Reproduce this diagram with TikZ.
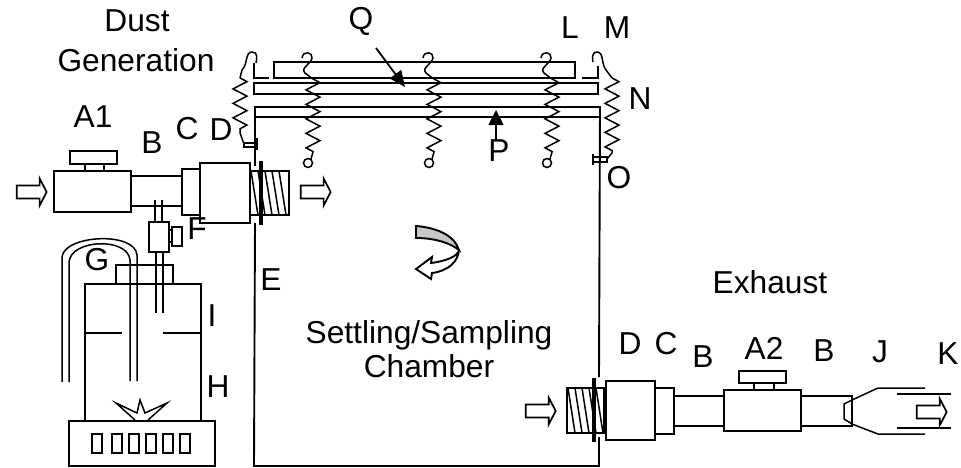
\documentclass[tikz,border=0pt]{standalone}
\usepackage{fontspec}
\setmainfont{Liberation Sans}
\usetikzlibrary{shapes.arrows, arrows.meta, decorations.pathmorphing}
\tikzstyle{part} = [draw=black, line width=1.9pt]
\tikzstyle{thin part} = [draw=black, line width=1.5pt]
\tikzstyle{flange} = [draw=black, line width=3.5pt]
\tikzstyle{letter} = [font=\fontsize{31.7}{35}\selectfont, inner sep=0pt, text=black]
\tikzstyle{flow} = [single arrow, draw=black, line width=1.7pt, minimum width=27pt, minimum height=30pt, inner sep=5.5pt, single arrow head extend=7pt, single arrow tip angle=125, outer sep=0pt]
\tikzstyle{coil} = [draw=black, line width=1.5pt, decorate, decoration={zigzag, amplitude=7pt, segment length=14.5pt}]
\tikzstyle{pointer} = [draw=black, line width=1.8pt]
\newcommand{\threads}[3]{\foreach \tx in {0,7,...,30} {\draw [thin part] (#1+\tx,#2) -- (#1+\tx+7,#3);}}
\begin{document}
\begin{tikzpicture}[x=1pt, y=-1pt]
    \useasboundingbox (0,0) rectangle (961,467);

    % labels
    \node (dust) [letter] at (137,21) {Dust};
    \node (generation) [letter] at (136,60) {Generation};
    \node (a1) [letter] at (93,117) {A1};
    \node (b1) [letter] at (152,143) {B};
    \node (c1) [letter] at (187,129) {C};
    \node (d1) [letter] at (221,130) {D};
    \node (f) [letter] at (197,229) {F};
    \node (g) [letter] at (97,260) {G};
    \node (e) [letter] at (271,280) {E};
    \node (i) [letter] at (212,316) {I};
    \node (h) [letter] at (218,387) {H};
    \node (q) [letter] at (361,21) {Q};
    \node (l) [letter] at (570,28) {L};
    \node (m) [letter] at (617,28) {M};
    \node (n) [letter] at (640,99) {N};
    \node (p) [letter] at (499,151) {P};
    \node (o) [letter] at (619,178) {O};
    \node (settling) [letter] at (429,335.5) {Settling/Sampling};
    \node (chamber) [letter] at (429,366.5) {Chamber};
    \node (exhaust) [letter] at (770,282) {Exhaust};
    \node (d2) [letter] at (630,344) {D};
    \node (c2) [letter] at (666,344) {C};
    \node (b2) [letter] at (703,357) {B};
    \node (a2) [letter] at (764,348) {A2};
    \node (b3) [letter] at (824,351) {B};
    \node (j) [letter] at (880,352) {J};
    \node (k) [letter] at (948,354) {K};

    % flow arrows
    \node (flowin) [flow] at (30,192) {};
    \node (flowchamber) [flow] at (314,192) {};
    \node (flowback) [flow] at (539,411) {};
    \node (flowout) [flow] at (930,412) {};

    % chamber
    \draw [part] (255,117) -- (255,166);
    \draw [part] (255,223) -- (254,466) -- (599,466) -- (599,437);
    \draw [part] (599,377) -- (600,107);

    % lid plates
    \draw [part] (274,62) rectangle (575,78);
    \draw [part] (254,83) rectangle (598,94);
    \draw [part] (255,117) -- (255,107) -- (600,107) -- (600,117) -- cycle;
    \draw [part, line width=2.3pt] (255,107) -- (600,107);
    \draw [part] (254,63) -- (254,78) -- (269,78);
    \draw [part] (582,78) -- (598,78) -- (598,66);

    % springs
    \foreach \sx in {313,434,552} {
        \draw [coil] (\sx,79) -- (\sx,152);
        \draw [thin part] (\sx,152) -- (\sx-2,159);
        \draw [thin part] (\sx-5,163) circle (4.5pt);
        \draw [thin part] (\sx,79) -- (\sx-8,73) .. controls (\sx-13,68) and (\sx-2,64) .. (\sx-1,58) .. controls (\sx,52) and (\sx-10,50) .. (\sx-11,58);
    }
    \draw [coil] (240,78) -- (240,133);
    \draw [thin part] (240,133) -- (244,144);
    \draw [thin part] (240,78) -- (242,70) .. controls (248,64) and (245,52) .. (252,52) .. controls (258,52) and (257,58) .. (256,63);
    \draw [thin part] (244,143) rectangle (255,147);
    \draw [part] (257,138) -- (257,150);
    \draw [coil] (612,78) -- (612,153);
    \draw [thin part] (612,153) -- (607,159);
    \draw [thin part] (612,78) -- (606,70) .. controls (601,64) and (604,52) .. (597,52) .. controls (592,52) and (592,58) .. (593,62);
    \draw [thin part] (593,157) rectangle (607,162);
    \draw [part] (593,154) -- (593,165);

    % pointers
    \draw [pointer, -{Triangle[length=16pt, width=14pt]}] (376,48) -- (405,87);
    \draw [pointer, -{Triangle[length=15pt, width=15pt]}] (496,140) -- (496,110);

    % dust generation line
    \draw [part] (54,171) rectangle (131,212);
    \draw [part] (70,151) rectangle (117,164);
    \draw [thin part] (85,164) -- (85,171);
    \draw [thin part] (104,164) -- (104,171);
    \draw [thin part] (131,176) -- (182,176);
    \draw [thin part] (131,206) -- (182,206);
    \draw [part] (182,169) rectangle (200,215);
    \draw [part] (200,163) rectangle (250,223);
    \draw [part] (250,171) rectangle (289,215);
    \threads{251}{171}{215}
    \draw [flange] (261,161) -- (261,225);

    % feeder
    \draw [thin part] (155,200) -- (155,222);
    \draw [thin part] (162,200) -- (162,222);
    \draw [part] (149,222) rectangle (169,252);
    \draw [thin part] (169,230) rectangle (172,242);
    \draw [part] (172,227) rectangle (182,246);
    \draw [thin part] (156,252) -- (156,313);
    \draw [thin part] (163,252) -- (163,313);

    % bottle
    \draw [part] (85,421) -- (85,284) -- (201,284) -- (201,421);
    \draw [part] (116,284) -- (116,265) -- (173,265) -- (173,284);
    \draw [thin part] (85,333) -- (122,333);
    \draw [thin part] (163,333) -- (201,333);
    \draw [thin part] (62,382) -- (62,257) .. controls (64,235) and (135,231) .. (137,255) -- (137,381);
    \draw [thin part] (69,382) -- (69,262) .. controls (71,239) and (128,237) .. (130,260) -- (130,381);

    % stirrer
    \draw [part] (69,421) rectangle (215,466);
    \foreach \bx in {92,112,129,146,163,180} {
        \draw [thin part] (\bx,434) rectangle (\bx+10,453);
    }
    \draw [thin part] (135,420) -- (116,403) -- (137,413) -- (140,400) -- (145,413) -- (167,403) -- (148,420);

    % rotation mark
    \draw [part, fill=black!22] (416,226) .. controls (440,228) and (455,237) .. (459,250) .. controls (450,243) and (435,238) .. (416,238) -- cycle;
    \draw [part, fill=white] (459,250) .. controls (458,256) and (447,261) .. (431,263) -- (432,257) -- (416,269) -- (431,279) -- (432,273) .. controls (448,271) and (458,262) .. (459,250);

    % exhaust line
    \draw [part] (567,388) rectangle (604,433);
    \threads{568}{388}{433}
    \draw [flange] (594,378) -- (594,442);
    \draw [part] (606,381) rectangle (655,440);
    \draw [part] (655,388) rectangle (674,434);
    \draw [thin part] (674,396) -- (724,396);
    \draw [thin part] (674,426) -- (724,426);
    \draw [part] (724,390) rectangle (801,431);
    \draw [part] (739,371) rectangle (786,383);
    \draw [thin part] (754,383) -- (754,390);
    \draw [thin part] (774,383) -- (774,390);
    \draw [thin part] (801,396) -- (852,396) -- (852,426) -- (801,426);
    \draw [thin part] (852,400) -- (844,404) -- (844,419) -- (852,424);
    \draw [thin part] (852,400) -- (878,388) -- (925,388);
    \draw [thin part] (852,424) -- (878,434) -- (925,434);
    \draw [thin part] (897,394) -- (951,394);
    \draw [thin part] (897,428) -- (951,428);
\end{tikzpicture}
\end{document}
